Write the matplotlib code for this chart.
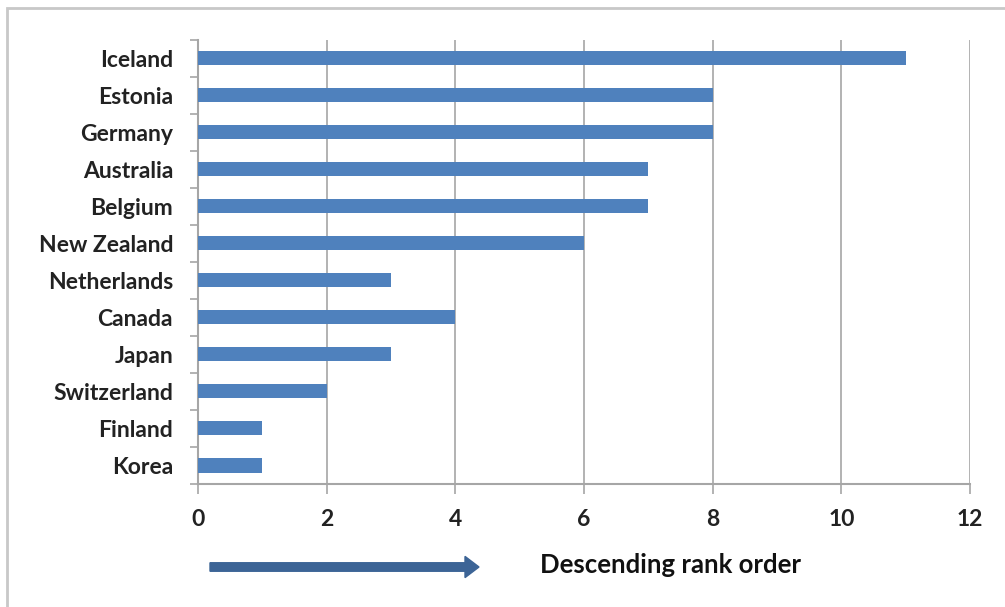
import matplotlib
matplotlib.use("Agg")
import matplotlib.pyplot as plt
from matplotlib.patches import Rectangle, FancyArrow

plt.rcParams['font.family'] = ['Lato', 'DejaVu Sans']

countries = ['Iceland', 'Estonia', 'Germany', 'Australia', 'Belgium', 'New Zealand',
             'Netherlands', 'Canada', 'Japan', 'Switzerland', 'Finland', 'Korea']
ranks = [11, 8, 8, 7, 7, 6, 3, 4, 3, 2, 1, 1]
xticks = [0, 2, 4, 6, 8, 10, 12]

bar_col = '#4F81BD'
grid_col = '#A6A6A6'

fig = plt.figure(figsize=(10.05, 6.07), dpi=100)
ax = fig.add_axes([198/1005, 1 - 484/607, (970 - 198)/1005, (484 - 39.5)/607])

pos = list(range(len(countries)))
ax.barh(pos, ranks, height=0.38, color=bar_col, zorder=3)
ax.set_ylim(len(countries) - 0.5, -0.5)
ax.set_xlim(0, 12)

ax.set_xticks(xticks)
ax.set_xticklabels([str(v) for v in xticks], fontsize=16.5, fontweight='bold', color='#222222')
ax.set_yticks(pos)
ax.set_yticklabels(countries, fontsize=16.5, fontweight='bold', color='#222222')
ax.set_yticks([p - 0.5 for p in pos] + [len(pos) - 0.5], minor=True)
ax.tick_params(axis='y', which='major', length=0, pad=18)
ax.tick_params(axis='y', which='minor', length=6, color=grid_col, width=1.2)
ax.tick_params(axis='x', length=7, color=grid_col, width=1.2, pad=11)

ax.grid(axis='x', color=grid_col, linewidth=1.2, zorder=0)
for s in ['top', 'right']:
    ax.spines[s].set_visible(False)
for s in ['left', 'bottom']:
    ax.spines[s].set_color(grid_col)
    ax.spines[s].set_linewidth(1.5)

# arrow and caption below the axis
fig.patches.append(FancyArrow(210/1005, 1 - 567/607, 255/1005, 0, width=0.014,
                              head_width=0.035, head_length=14/1005,
                              length_includes_head=False, color='#3C6496',
                              transform=fig.transFigure, figure=fig))
fig.text(540/1005, 1 - 565/607, 'Descending rank order', fontsize=18.5,
         fontweight='bold', va='center', ha='left', color='#111111')

# outer border (top and left visible)
fig.patches.append(Rectangle((7/1005, -0.1), 1.1, 1 - 8/607 + 0.1, fill=False,
                             edgecolor='#C8C8C8', linewidth=2,
                             transform=fig.transFigure, figure=fig))

fig.savefig('out.png', dpi=100)
